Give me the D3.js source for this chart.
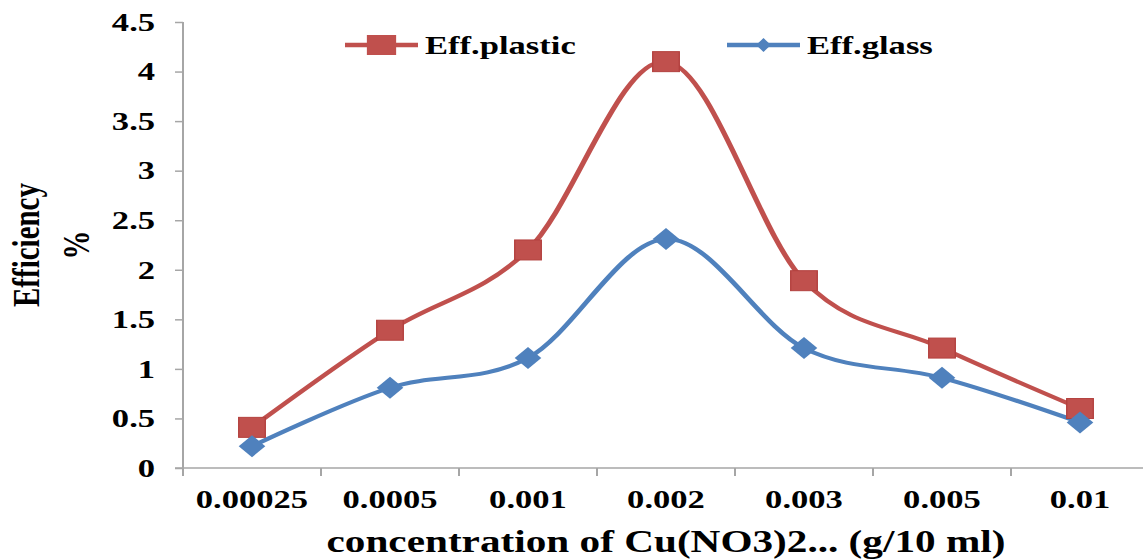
<!DOCTYPE html>
<html>
<head>
<meta charset="utf-8">
<script src="https://cdn.jsdelivr.net/npm/d3@7"></script>
<style>
  html, body { margin: 0; padding: 0; background: #fff; }
  svg { display: block; }
  text { font-family: "Liberation Serif", "Times New Roman", serif; font-weight: bold; fill: #000; }
</style>
</head>
<body>
<svg id="chart" width="1143" height="559"></svg>
<script>
// Copper nitrate concentration categories (g/10 ml)
const categories = ["0.00025", "0.0005", "0.001", "0.002", "0.003", "0.005", "0.01"];
// Efficiency (%) per substrate
const effPlastic = [0.41, 1.39, 2.2, 4.1, 1.89, 1.21, 0.6];
const effGlass = [0.22, 0.81, 1.11, 2.31, 1.21, 0.91, 0.46];
const yTicks = [0, 0.5, 1, 1.5, 2, 2.5, 3, 3.5, 4, 4.5];
const seriesNames = ["Eff.plastic", "Eff.glass"];

const W = 1143, H = 559;
const SX = 1.33;                 // horizontal stretch of the whole figure

const red = "#C0504D", blue = "#4F81BD", axisGray = "#A6A6A6";

const svg = d3.select("#chart");
const g = svg.append("g").attr("transform", `scale(${SX},1)`);

const plotLeft = 183 / SX, plotRight = 1149 / SX;
const plotTop = 22, plotBottom = 468;

const x = d3.scaleBand().domain(categories).range([plotLeft, plotRight]).padding(0);
const y = d3.scaleLinear().domain([0, 4.5]).range([plotBottom, plotTop]);

// y axis
const yAxis = g.append("g")
  .attr("transform", `translate(${plotLeft},0)`)
  .call(d3.axisLeft(y).tickValues(yTicks).tickSize(6).tickPadding(15).tickFormat(d3.format("")));
yAxis.select(".domain").attr("stroke", axisGray).attr("stroke-width", 1.5).attr("d", `M0,${plotTop}V${plotBottom + 8}`);
yAxis.selectAll(".tick line").attr("stroke", axisGray).attr("stroke-width", 1.5);
yAxis.selectAll(".tick text").style("font-size", "26px").attr("font-family", null);

// x axis: line with ticks on band boundaries, labels centred in bands
const xAxis = g.append("g").attr("transform", `translate(0,${plotBottom})`);
xAxis.append("line")
  .attr("x1", plotLeft - 6).attr("x2", plotRight)
  .attr("stroke", axisGray).attr("stroke-width", 1.5);
xAxis.selectAll("line.bound")
  .data(categories.slice(1))
  .join("line")
  .attr("class", "bound")
  .attr("x1", d => x(d)).attr("x2", d => x(d))
  .attr("y1", 0).attr("y2", 8)
  .attr("stroke", axisGray).attr("stroke-width", 1.5);
xAxis.selectAll("text.cat")
  .data(categories)
  .join("text")
  .attr("class", "cat")
  .attr("x", d => x(d) + x.bandwidth() / 2)
  .attr("y", 40)
  .attr("text-anchor", "middle")
  .style("font-size", "26px")
  .text(d => d);

// axis titles
g.append("text")
  .attr("x", (plotLeft + plotRight) / 2)
  .attr("y", 552)
  .attr("text-anchor", "middle")
  .style("font-size", "31px")
  .text("concentration of Cu(NO3)2... (g/10 ml)");

const yMid = (plotTop + plotBottom) / 2;
g.append("text")
  .attr("transform", `translate(${39 / SX},${yMid}) rotate(-90)`)
  .attr("text-anchor", "middle")
  .style("font-size", "29px")
  .text("Efficiency");
g.append("text")
  .attr("transform", `translate(${89 / SX},${yMid}) rotate(-90)`)
  .attr("text-anchor", "middle")
  .style("font-size", "29px")
  .text("%");

// smoothed series lines
const cx = (d, i) => x(categories[i]) + x.bandwidth() / 2;
const line = d3.line().x(cx).y(d => y(d)).curve(d3.curveCatmullRom.alpha(0));

g.append("path").datum(effPlastic)
  .attr("d", line).attr("fill", "none").attr("stroke", red).attr("stroke-width", 4);
g.append("path").datum(effGlass)
  .attr("d", line).attr("fill", "none").attr("stroke", blue).attr("stroke-width", 4);

// markers
const sq = 20;
g.selectAll("rect.mk")
  .data(effPlastic)
  .join("rect")
  .attr("class", "mk")
  .attr("x", (d, i) => cx(d, i) - sq / 2)
  .attr("y", d => y(d) - sq / 2)
  .attr("width", sq).attr("height", sq)
  .attr("fill", red).attr("stroke", "#B3413E").attr("stroke-width", 1);

const diamond = (w, h) => `M0,${-h}L${w},0L0,${h}L${-w},0Z`;
g.selectAll("path.dm")
  .data(effGlass)
  .join("path")
  .attr("class", "dm")
  .attr("transform", (d, i) => `translate(${cx(d, i)},${y(d)})`)
  .attr("d", diamond(10, 11))
  .attr("fill", blue);

// legend
const legend = [
  { name: seriesNames[0], color: red, x0: 345, kind: "square" },
  { name: seriesNames[1], color: blue, x0: 727, kind: "diamond" }
];
const legY = 45;
legend.forEach(l => {
  const lg = g.append("g");
  const x0 = l.x0 / SX, x1 = (l.x0 + 73) / SX, xm = (x0 + x1) / 2;
  lg.append("line").attr("x1", x0).attr("x2", x1).attr("y1", legY).attr("y2", legY)
    .attr("stroke", l.color).attr("stroke-width", 4.5);
  if (l.kind === "square") {
    lg.append("rect").attr("x", xm - 11).attr("y", legY - 10).attr("width", 22).attr("height", 20)
      .attr("fill", l.color);
  } else {
    lg.append("path").attr("transform", `translate(${xm},${legY})`).attr("d", diamond(5.5, 7)).attr("fill", l.color);
  }
  lg.append("text").attr("x", x1 + 7 / SX).attr("y", legY + 9)
    .style("font-size", "26px").text(l.name);
});
</script>
</body>
</html>
